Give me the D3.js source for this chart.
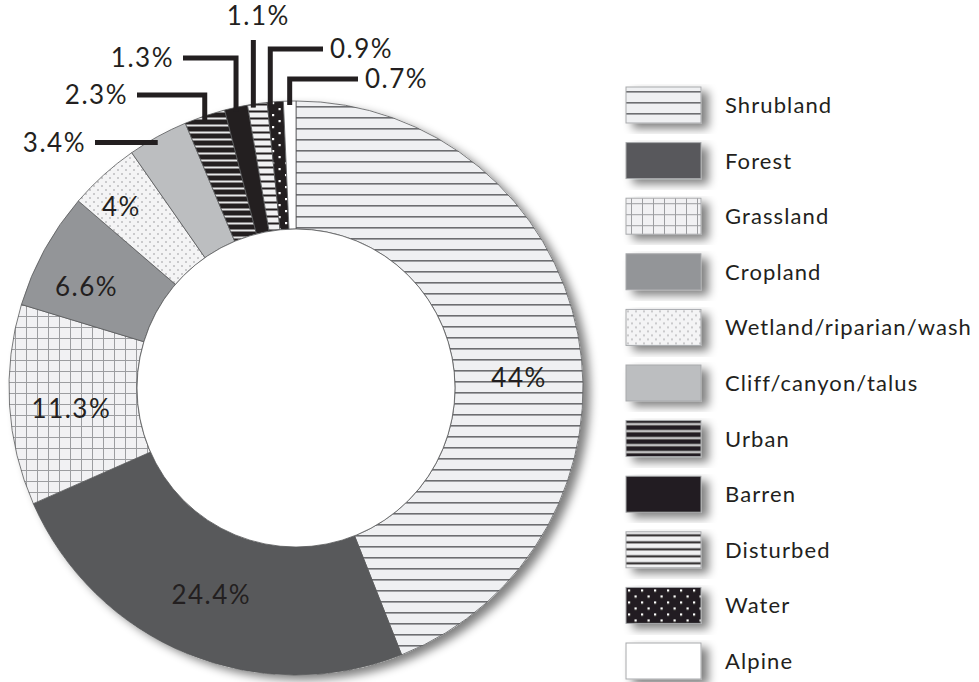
<!DOCTYPE html>
<html>
<head>
<meta charset="utf-8">
<script src="https://cdn.jsdelivr.net/npm/d3@7"></script>
<style>
  body { margin: 0; background: #fff; }
  text { font-family: Lato, "DejaVu Sans", sans-serif; fill: #231f20; }
</style>
</head>
<body>
<div id="chart"></div>
<script>
// land cover categories, clockwise from 12 o'clock
var categories = ["Shrubland", "Forest", "Grassland", "Cropland", "Wetland/riparian/wash",
  "Cliff/canyon/talus", "Urban", "Barren", "Disturbed", "Water", "Alpine"];
var shares = [44, 24.4, 11.3, 6.6, 4, 3.4, 2.3, 1.3, 1.1, 0.9, 0.7];
var shareLabels = ["44%", "24.4%", "11.3%", "6.6%", "4%", "3.4%", "2.3%", "1.3%", "1.1%", "0.9%", "0.7%"];

var w = 979, h = 682;
var cx = 296, cy = 388, rOuter = 287, rInner = 159;

var svg = d3.select("#chart").append("svg")
  .attr("width", w)
  .attr("height", h);

var defs = svg.append("defs");

// soft shadow down/right
var f = defs.append("filter").attr("id", "shadow")
  .attr("x", "-20%").attr("y", "-20%").attr("width", "150%").attr("height", "150%");
f.append("feGaussianBlur").attr("in", "SourceAlpha").attr("stdDeviation", 5).attr("result", "b");
f.append("feOffset").attr("in", "b").attr("dx", 7).attr("dy", 5).attr("result", "o");
f.append("feComponentTransfer").attr("in", "o").attr("result", "o2")
  .append("feFuncA").attr("type", "linear").attr("slope", 0.5);
var fm = f.append("feMerge");
fm.append("feMergeNode").attr("in", "o2");
fm.append("feMergeNode").attr("in", "SourceGraphic");

function pattern(id, pw, ph, bg) {
  var p = defs.append("pattern").attr("id", id)
    .attr("patternUnits", "userSpaceOnUse")
    .attr("width", pw).attr("height", ph);
  p.append("rect").attr("width", pw).attr("height", ph).attr("fill", bg);
  return p;
}

// shrubland: thin grey lines
pattern("p-shrub", 20, 11, "#eff0f2")
  .append("rect").attr("y", 4).attr("width", 20).attr("height", 1.6).attr("fill", "#6d6e71");

// grassland: grid
var pg = pattern("p-grass", 11, 11, "#f1f1f3");
pg.append("rect").attr("y", 5).attr("width", 11).attr("height", 1).attr("fill", "#9c9da0");
pg.append("rect").attr("x", 5).attr("width", 1).attr("height", 11).attr("fill", "#9c9da0");

// wetland: fine dots
var pw = pattern("p-wet", 8, 8, "#f4f4f5");
pw.append("circle").attr("cx", 2).attr("cy", 2).attr("r", 0.75).attr("fill", "#8c8c8e");
pw.append("circle").attr("cx", 6).attr("cy", 6).attr("r", 0.75).attr("fill", "#8c8c8e");

// urban: black with light stripes
pattern("p-urban", 20, 7, "#231f20")
  .append("rect").attr("y", 2.5).attr("width", 20).attr("height", 2).attr("fill", "#e6e7e8");

// disturbed: light with black stripes
pattern("p-dist", 20, 7, "#f1f1f2")
  .append("rect").attr("y", 2.5).attr("width", 20).attr("height", 2).attr("fill", "#231f20");

// water: black with white squares
var pwa = pattern("p-water", 13, 12, "#231f20");
pwa.append("rect").attr("x", 2).attr("y", 2).attr("width", 2.2).attr("height", 2.2).attr("fill", "#fff");
pwa.append("rect").attr("x", 8.5).attr("y", 8).attr("width", 2.2).attr("height", 2.2).attr("fill", "#fff");

var fills = ["url(#p-shrub)", "#58595b", "url(#p-grass)", "#939598", "url(#p-wet)",
  "#bcbec0", "url(#p-urban)", "#231f20", "url(#p-dist)", "url(#p-water)", "#ffffff"];

var color = d3.scaleOrdinal().domain(categories).range(fills);

var pie = d3.pie().sort(null).value(function(d) { return d; });
var arcs = pie(shares);
arcs.forEach(function(a, i) { a.cat = categories[i]; a.label = shareLabels[i]; });

var arc = d3.arc().innerRadius(rInner).outerRadius(rOuter);

var g = svg.append("g").attr("transform", "translate(" + cx + "," + cy + ")");

// shadow disc behind the ring
g.append("circle").attr("r", rOuter).attr("fill", "#fff").attr("filter", "url(#shadow)");

g.selectAll("path.slice")
  .data(arcs)
  .enter().append("path")
  .attr("class", "slice")
  .attr("d", arc)
  .attr("fill", function(d) { return color(d.cat); })
  .attr("stroke", "#58595b")
  .attr("stroke-width", 0.8);

g.append("circle").attr("r", rInner).attr("fill", "#fff")
  .attr("stroke", "#58595b").attr("stroke-width", 0.8);

var labelFont = "26px", labelSpacing = "1.5px";

// labels inside the ring (big slices), nudged like the original
var inside = {
  "Shrubland": [4, 31], "Forest": [0, 0], "Grassland": [-2, 7],
  "Cropland": [-14, 6], "Wetland/riparian/wash": [-25, -16]
};
var labelArc = d3.arc().innerRadius((rInner + rOuter) / 2).outerRadius((rInner + rOuter) / 2);

g.selectAll("text.inlabel")
  .data(arcs.filter(function(d) { return inside[d.cat]; }))
  .enter().append("text")
  .attr("class", "inlabel")
  .attr("x", function(d) { return labelArc.centroid(d)[0] + inside[d.cat][0]; })
  .attr("y", function(d) { return labelArc.centroid(d)[1] + inside[d.cat][1]; })
  .attr("dy", "0.36em")
  .attr("text-anchor", "middle")
  .style("font-size", labelFont)
  .style("letter-spacing", labelSpacing)
  .text(function(d) { return d.label; });

// callouts for the thin slices: elbow height and end of the leader (page coords)
var callouts = {
  "Cliff/canyon/talus": { y: null, x: 95, side: "end" },
  "Urban": { y: 95, x: 137, side: "end" },
  "Barren": { y: 58, x: 183, side: "end" },
  "Disturbed": { y: 40, x: null, side: "top" },
  "Water": { y: 49, x: 323, side: "start" },
  "Alpine": { y: 79, x: 358, side: "start" }
};

var lines = svg.append("g");
arcs.filter(function(d) { return callouts[d.cat]; }).forEach(function(d) {
  var c = callouts[d.cat];
  var mid = (d.startAngle + d.endAngle) / 2;
  var px = cx + rOuter * Math.sin(mid) - (d.cat === "Water" ? 5 : d.cat === "Disturbed" ? 4 : 0);
  var py = cy - rOuter * Math.cos(mid);
  var pts, tx, ty, anchor;
  if (c.y === null) {
    pts = [[px, py + 6], [c.x, py + 6]];
    tx = c.x - 9; ty = py + 6; anchor = "end";
  } else if (c.x === null) {
    pts = [[px, py + 4], [px, c.y]];
    tx = px + 5; ty = c.y - 24; anchor = "middle";
  } else {
    pts = [[px, py + 4], [px, c.y], [c.x, c.y]];
    tx = c.side === "end" ? c.x - 9 : c.x + 7;
    ty = c.y;
    anchor = c.side;
  }
  lines.append("path")
    .attr("d", d3.line()(pts))
    .attr("fill", "none")
    .attr("stroke", "#231f20")
    .attr("stroke-width", 5);
  lines.append("text")
    .attr("x", tx).attr("y", ty)
    .attr("dy", "0.36em")
    .attr("text-anchor", anchor)
    .style("font-size", labelFont)
    .style("letter-spacing", labelSpacing)
    .text(d.label);
});

// legend
var ly = d3.scaleBand().domain(categories).range([87, 87 + 55.6 * categories.length]);

var leg = svg.append("g").selectAll("g")
  .data(categories)
  .enter().append("g")
  .attr("transform", function(d) { return "translate(626," + ly(d) + ")"; });

leg.append("rect")
  .attr("width", 75).attr("height", 36)
  .attr("fill", function(d) { return color(d); })
  .attr("stroke", "#a7a9ac")
  .attr("stroke-width", 1)
  .attr("filter", "url(#shadow)");

leg.append("text")
  .attr("x", 99).attr("y", 18)
  .attr("dy", "0.36em")
  .style("font-size", "22px")
  .style("letter-spacing", "1.1px")
  .text(function(d) { return d; });
</script>
</body>
</html>
